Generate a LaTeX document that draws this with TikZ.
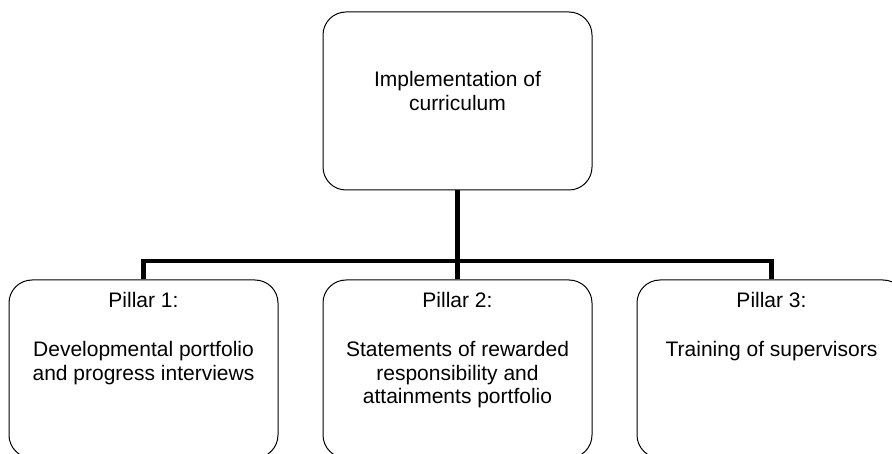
\documentclass[tikz,border=0pt]{standalone}
\usepackage{fontspec}
\setmainfont{Liberation Sans}
\usetikzlibrary{positioning}

\begin{document}
\begin{tikzpicture}[x=1pt,y=1pt]

                \tikzstyle{box}  = [draw, rounded corners=23pt, line width=1pt, minimum width=269pt, minimum height=178pt, inner sep=0pt]
                \tikzstyle{txt}  = [align=center, inner sep=0pt, font=\fontsize{21}{23.5}\selectfont]
                \tikzstyle{link} = [line width=4.5pt]

                \useasboundingbox (0,0) rectangle (892,453);

                \node [box](top) at (457.5,352) {};
                \node [txt, below=60pt of top.north](toptxt) {Implementation of\\curriculum};

                \foreach \x/\txt in {1/{Developmental portfolio\\and progress interviews},
                                     2/{Statements of rewarded\\responsibility and\\attainments portfolio},
                                     3/{Training of supervisors}}
                {
                        \node [box](p\x) at (143.5+314*\x-314, 84) {};
                        \node [txt, below=13pt of p\x.north](t\x) {Pillar \x:\\[25.5pt]\txt};
                }

                \draw [link] (top.south) -- (p2.north);
                \draw [link] (p1.north) -- ++(0,18.5) -| (p3.north);
\end{tikzpicture}
\end{document}
